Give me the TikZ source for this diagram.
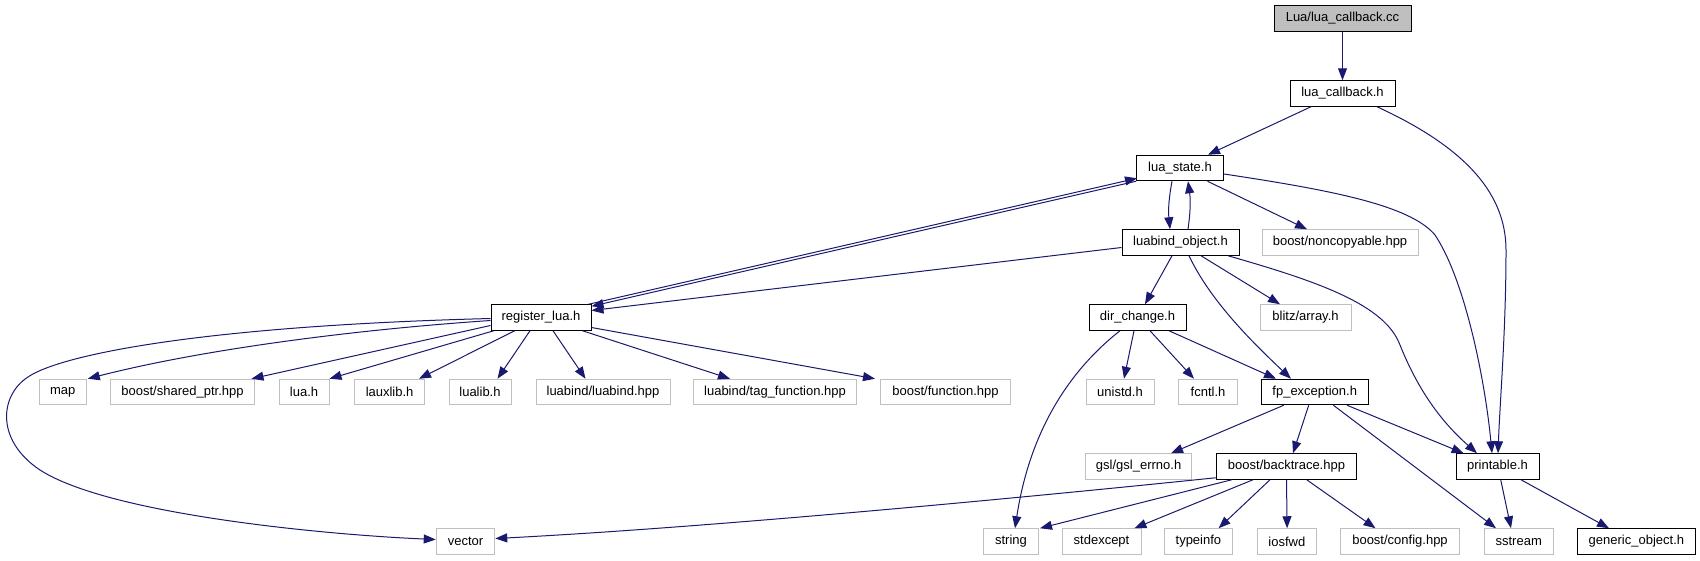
\documentclass[tikz,border=0pt]{standalone}
\usepackage{fontspec}
\setmainfont{Liberation Sans}
\usetikzlibrary{arrows.meta}
\definecolor{edgeblue}{HTML}{191970}
\definecolor{boxgray}{HTML}{BFBFBF}
\tikzset{
  base/.style={rectangle, inner sep=0pt, minimum height=25.5pt, line width=1pt,
    font=\fontsize{13}{14}\selectfont},
  doc/.style={base, draw=black, fill=white},
  rootbox/.style={base, draw=black, fill=boxgray},
  ext/.style={base, draw=boxgray, fill=white},
  dep/.style={draw=edgeblue, line width=1pt, -{Triangle[length=12pt,width=9pt]}, fill=none},
}
\begin{document}
\begin{tikzpicture}[x=1pt,y=-1pt]
\useasboundingbox[fill=white] (0,0) rectangle (1700,560);
% nodes
\node[rootbox, minimum width=137] (cc) at (1342.5,18.5) {Lua/lua\_callback.cc};
\node[doc, minimum width=105] (lcb) at (1342.5,93.5) {lua\_callback.h};
\node[doc, minimum width=87] (ls) at (1180,168) {lua\_state.h};
\node[doc, minimum width=117] (lbo) at (1180.5,242.5) {luabind\_object.h};
\node[ext, minimum width=156] (nc) at (1340,242.5) {boost/noncopyable.hpp};
\node[doc, minimum width=100] (rl) at (541,317.5) {register\_lua.h};
\node[doc, minimum width=97] (dc) at (1137.5,317.5) {dir\_change.h};
\node[ext, minimum width=91] (ba) at (1305.5,317.5) {blitz/array.h};
\node[ext, minimum width=47] (map) at (62.8,392) {map};
\node[ext, minimum width=144] (sp) at (182.5,392) {boost/shared\_ptr.hpp};
\node[ext, minimum width=50] (luah) at (304,392) {lua.h};
\node[ext, minimum width=70] (lauxlib) at (389.6,392) {lauxlib.h};
\node[ext, minimum width=62] (lualib) at (480,392) {lualib.h};
\node[ext, minimum width=134] (lbh) at (603,392) {luabind/luabind.hpp};
\node[ext, minimum width=163] (tf) at (775,392) {luabind/tag\_function.hpp};
\node[ext, minimum width=130] (bf) at (945.5,392) {boost/function.hpp};
\node[ext, minimum width=68] (unistd) at (1120,392) {unistd.h};
\node[ext, minimum width=59] (fcntl) at (1208,392) {fcntl.h};
\node[doc, minimum width=107] (fpe) at (1314.7,392) {fp\_exception.h};
\node[ext, minimum width=106] (gsl) at (1138.6,466.5) {gsl/gsl\_errno.h};
\node[doc, minimum width=140.5] (bt) at (1286.5,466.5) {boost/backtrace.hpp};
\node[doc, minimum width=83] (pr) at (1497.5,466.5) {printable.h};
\node[ext, minimum width=58.5] (vector) at (465.5,541.5) {vector};
\node[ext, minimum width=55] (string) at (1011,541.5) {string};
\node[ext, minimum width=79] (stdexcept) at (1101.5,541.5) {stdexcept};
\node[ext, minimum width=68] (typeinfo) at (1198.4,541.5) {typeinfo};
\node[ext, minimum width=59.6] (iosfwd) at (1286.8,541.5) {iosfwd};
\node[ext, minimum width=118.7] (bcfg) at (1400,541.5) {boost/config.hpp};
\node[ext, minimum width=69] (sstream) at (1518.7,541.5) {sstream};
\node[doc, minimum width=117.5] (go) at (1636.4,541.5) {generic\_object.h};
% edges
\draw[dep] (cc.south) -- (lcb.north);
\draw[dep] ([xshift=-31.5pt]lcb.south) -- ([xshift=28pt]ls.north);
\draw[dep] ([xshift=34.5pt]lcb.south) .. controls (1460,145) and (1506,190) .. (1506,250)
   .. controls (1506,330) and (1500,400) .. ([xshift=0.5pt]pr.north);
\draw[dep] ([xshift=-8pt]ls.south) to[bend right=8] ([xshift=-10.5pt]lbo.north);
\draw[dep] ([xshift=7.5pt]lbo.north) to[bend right=8] ([xshift=8pt]ls.south);
\draw[dep] ([xshift=27.5pt]ls.south) -- ([xshift=-33pt]nc.north);
\draw[dep] ([yshift=-6pt]ls.east) .. controls (1330,190) and (1410,205) .. (1435,235)
   .. controls (1465,280) and (1485,380) .. ([xshift=-5.5pt]pr.north);
\draw[dep] ([xshift=-3pt]rl.north east) -- ([xshift=1pt,yshift=3pt]ls.south west);
\draw[dep] (ls.south west) -- ([yshift=-2pt]rl.north east);
\draw[dep] ([yshift=-5pt]lbo.west) -- ([yshift=7pt]rl.east);
\draw[dep] ([xshift=-8.5pt]lbo.south) -- ([xshift=7.5pt]dc.north);
\draw[dep] ([xshift=8.5pt]lbo.south) .. controls (1210,300) and (1250,340) .. ([xshift=-23.7pt]fpe.north);
\draw[dep] ([xshift=20.5pt]lbo.south) -- ([xshift=-25.5pt]ba.north);
\draw[dep] ([xshift=47.5pt]lbo.south) .. controls (1320,282) and (1385,305) .. (1400,345)
   .. controls (1420,395) and (1445,425) .. ([xshift=-20.5pt]pr.north);
% register_lua.h
\draw[dep] ([yshift=-3pt]rl.west) .. controls (350,330) and (200,350) .. ([xshift=1pt]map.north east);
\draw[dep] ([yshift=-8pt]rl.west) -- ([xshift=69pt]sp.north);
\draw[dep] ([xshift=-47.3pt]rl.south) -- (luah.north east);
\draw[dep] ([xshift=-26.3pt]rl.south) -- ([xshift=29.4pt]lauxlib.north);
\draw[dep] ([xshift=-11pt]rl.south) -- ([xshift=17.5pt]lualib.north);
\draw[dep] ([xshift=12pt]rl.south) -- ([xshift=-17.5pt]lbh.north);
\draw[dep] ([xshift=41.5pt]rl.south) -- ([xshift=-45pt]tf.north);
\draw[dep] ([yshift=-10pt]rl.east) -- ([xshift=-70.5pt]bf.north);
\draw[dep] ([yshift=-1pt]rl.west) .. controls (200,326) and (60,355) .. (28,377)
   .. controls (0,395) and (-5,440) .. (40,470)
   .. controls (110,515) and (330,535) .. ([yshift=2pt]vector.west);
% dir_change.h
\draw[dep] ([xshift=-17.5pt]dc.south) .. controls (1070,370) and (1030,430) .. ([xshift=4pt]string.north);
\draw[dep] ([xshift=-3.5pt]dc.south) -- ([xshift=4pt]unistd.north);
\draw[dep] ([xshift=12.5pt]dc.south) -- ([xshift=-14pt]fcntl.north);
\draw[dep] ([xshift=31.5pt]dc.south) -- ([xshift=-38.7pt]fpe.north);
% fp_exception.h
\draw[dep] ([xshift=-31pt]fpe.south) -- ([xshift=32.4pt]gsl.north);
\draw[dep] ([xshift=-6pt]fpe.south) -- ([xshift=6.5pt]bt.north);
\draw[dep] ([xshift=18.7pt]fpe.south) -- ([xshift=-22.7pt]sstream.north);
\draw[dep] ([xshift=32.3pt]fpe.south) -- ([xshift=-33.9pt]pr.north);
% printable.h
\draw[dep] ([xshift=3.2pt]pr.south) -- ([xshift=-7.7pt]sstream.north);
\draw[dep] ([xshift=23.5pt]pr.south) -- ([xshift=-27.4pt]go.north);
% boost/backtrace.hpp
\draw[dep] ([yshift=2pt]bt.south west) .. controls (1000,500) and (700,528) .. ([yshift=3pt]vector.east);
\draw[dep] ([xshift=16pt]bt.south west) -- ([xshift=1pt]string.north east);
\draw[dep] ([xshift=-33.5pt]bt.south) -- ([xshift=32.9pt]stdexcept.north);
\draw[dep] ([xshift=-16.5pt]bt.south) -- ([xshift=20.2pt]typeinfo.north);
\draw[dep] (bt.south) -- ([xshift=0.3pt]iosfwd.north);
\draw[dep] ([xshift=20.2pt]bt.south) -- ([xshift=-24.5pt]bcfg.north);
\end{tikzpicture}
\end{document}
